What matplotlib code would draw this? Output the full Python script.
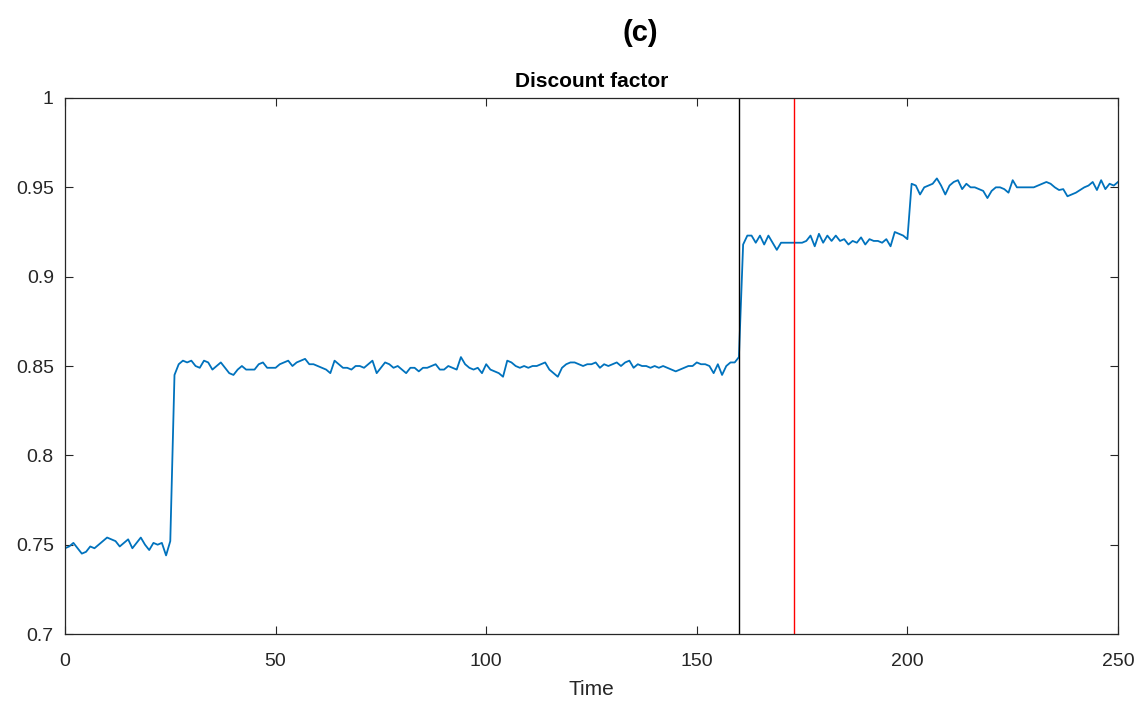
import numpy as np
import matplotlib
matplotlib.use('Agg')
import matplotlib.pyplot as plt
from matplotlib.ticker import FuncFormatter

plt.rcParams['font.family'] = ['Liberation Sans', 'DejaVu Sans']

# discount factor estimate, one value per time step 0..250
discount = [
    0.748, 0.749, 0.751, 0.748, 0.745, 0.746, 0.749, 0.748, 0.750, 0.752,
    0.754, 0.753, 0.752, 0.749, 0.751, 0.753, 0.748, 0.751, 0.754, 0.750,
    0.747, 0.751, 0.750, 0.751, 0.744, 0.752, 0.845, 0.851, 0.853, 0.852,
    0.853, 0.850, 0.849, 0.853, 0.852, 0.848, 0.850, 0.852, 0.849, 0.846,
    0.845, 0.848, 0.850, 0.848, 0.848, 0.848, 0.851, 0.852, 0.849, 0.849,
    0.849, 0.851, 0.852, 0.853, 0.850, 0.852, 0.853, 0.854, 0.851, 0.851,
    0.850, 0.849, 0.848, 0.846, 0.853, 0.851, 0.849, 0.849, 0.848, 0.850,
    0.850, 0.849, 0.851, 0.853, 0.846, 0.849, 0.852, 0.851, 0.849, 0.850,
    0.848, 0.846, 0.849, 0.849, 0.847, 0.849, 0.849, 0.850, 0.851, 0.848,
    0.848, 0.850, 0.849, 0.848, 0.855, 0.851, 0.849, 0.848, 0.849, 0.846,
    0.851, 0.848, 0.847, 0.846, 0.844, 0.853, 0.852, 0.850, 0.849, 0.850,
    0.849, 0.850, 0.850, 0.851, 0.852, 0.848, 0.846, 0.844, 0.849, 0.851,
    0.852, 0.852, 0.851, 0.850, 0.851, 0.851, 0.852, 0.849, 0.851, 0.850,
    0.851, 0.852, 0.850, 0.852, 0.853, 0.849, 0.851, 0.850, 0.850, 0.849,
    0.850, 0.849, 0.850, 0.849, 0.848, 0.847, 0.848, 0.849, 0.850, 0.850,
    0.852, 0.851, 0.851, 0.850, 0.846, 0.851, 0.845, 0.850, 0.852, 0.852,
    0.855, 0.918, 0.923, 0.923, 0.919, 0.923, 0.918, 0.923, 0.919, 0.915,
    0.919, 0.919, 0.919, 0.919, 0.919, 0.919, 0.920, 0.923, 0.917, 0.924,
    0.919, 0.923, 0.920, 0.923, 0.920, 0.921, 0.918, 0.920, 0.919, 0.922,
    0.918, 0.921, 0.920, 0.920, 0.919, 0.921, 0.917, 0.925, 0.924, 0.923,
    0.921, 0.952, 0.951, 0.946, 0.950, 0.951, 0.952, 0.955, 0.951, 0.946,
    0.951, 0.953, 0.954, 0.949, 0.952, 0.950, 0.950, 0.949, 0.948, 0.944,
    0.948, 0.950, 0.950, 0.949, 0.947, 0.954, 0.950, 0.950, 0.950, 0.950,
    0.950, 0.951, 0.952, 0.953, 0.952, 0.950, 0.9485, 0.949, 0.945, 0.946,
    0.947, 0.9485, 0.950, 0.951, 0.953, 0.9485, 0.954, 0.949, 0.952, 0.951,
    0.953,
]
time = np.arange(len(discount))

black_line = 160   # vertical markers
red_line = 173

xticks = [0, 50, 100, 150, 200, 250]
yticks = [0.7, 0.75, 0.8, 0.85, 0.9, 0.95, 1.0]

dark = '#262626'
fig = plt.figure(figsize=(11.4, 7.04), dpi=100)
ax = fig.add_axes([0.057, 0.0994, 0.9237, 0.7614])

ax.plot(time, discount, color='#0072BD', lw=1.3)
ax.axvline(black_line, color='black', lw=1.0)
ax.axvline(red_line, color='#ff0000', lw=1.0)

ax.set_xlim(0, 250); ax.set_ylim(0.7, 1.0)
ax.set_xticks(xticks); ax.set_yticks(yticks)
ax.yaxis.set_major_formatter(FuncFormatter(lambda v, p: f'{v:g}'))
ax.tick_params(direction='in', top=True, right=True, length=6, width=0.8,
               colors=dark, labelsize=14)
ax.tick_params(axis='x', pad=14)
ax.tick_params(axis='y', pad=8)
for s in ax.spines.values():
    s.set_color(dark); s.set_linewidth(0.9)

ax.set_xlabel('Time', fontsize=15, color=dark, labelpad=7)
ax.set_title('Discount factor', fontsize=15, fontweight='bold', pad=8)
fig.text(0.562, 0.953, '(c)', fontsize=21, fontweight='bold', ha='center', va='center')

fig.savefig('out.png', dpi=100)
